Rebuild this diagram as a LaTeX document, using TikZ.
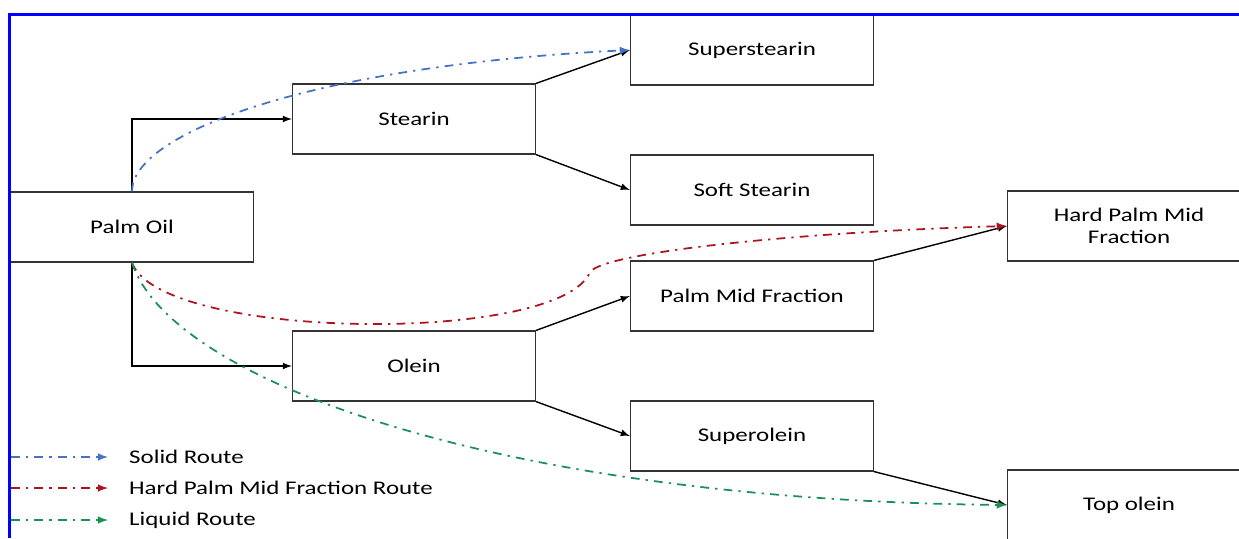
\documentclass[tikz,border=0pt]{standalone}
\usepackage{fontspec}
\setmainfont{Carlito}[FakeStretch=1.29]
\definecolor{routeblue}{RGB}{68,114,196}
\definecolor{routered}{RGB}{170,20,30}
\definecolor{routegreen}{RGB}{25,145,85}
\begin{document}
\begin{tikzpicture}[
    x=0.02cm, y=-0.02cm,
    box/.style={draw=black!80, line width=0.7pt, minimum width=4.86cm, minimum height=1.4cm, align=center, font=\fontsize{11}{12.5}\selectfont},
    flow/.style={draw, line width=0.8pt, -latex},
    route/.style={line width=1pt, -latex, dash pattern=on 5pt off 3.5pt on 1.3pt off 3.5pt},
    solidroute/.style={route, routeblue},
    hpmfroute/.style={route, routered},
    liquidroute/.style={route, routegreen},
    legend/.style={anchor=west, font=\fontsize{11}{12.5}\selectfont},
]
    \useasboundingbox (0,0) rectangle (1239,538);

    \node[box] (palm) at (132,227) {Palm Oil};
    \node[box] (stearin) at (414,119) {Stearin};
    \node[box] (olein) at (414,366) {Olein};
    \node[box] (superstearin) at (752,50) {Superstearin};
    \node[box] (softstearin) at (752,190) {Soft Stearin};
    \node[box] (pmf) at (752,296) {Palm Mid Fraction};
    \node[box] (superolein) at (752,436) {Superolein};
    \node[box] (hpmf) at (1129,226) {Hard Palm Mid\\Fraction};
    \node[box] (topolein) at (1129,505) {Top olein};

    \draw[flow] (palm.north) |- (stearin.west);
    \draw[flow] (palm.south) |- (olein.west);
    \draw[flow] (stearin.north east) -- (superstearin.west);
    \draw[flow] (stearin.south east) -- (softstearin.west);
    \draw[flow] (olein.north east) -- (pmf.west);
    \draw[flow] (olein.south east) -- (superolein.west);
    \draw[flow] (pmf.north east) -- (hpmf.west);
    \draw[flow] (superolein.south east) -- (topolein.west);

    \coordinate (kink) at (590,272);
    \draw[solidroute] (palm.north) .. controls +(0,-58) and +(-320,16) .. (superstearin.west);
    \draw[hpmfroute] (palm.south) .. controls +(28,78) and +(-30,73) .. (kink)
        .. controls +(15,-20) and +(-207,6) .. (hpmf.west);
    \draw[liquidroute] (palm.south) .. controls +(38,118) and +(-507,-5) .. (topolein.west);

    \foreach \y/\st/\txt [count=\i] in {457/solidroute/Solid Route, 488/hpmfroute/Hard Palm Mid Fraction Route, 520/liquidroute/Liquid Route} {
        \node[legend] (leg\i) at (123,\y) {\txt};
        \coordinate (legstart\i) at (11,\y);
        \draw[\st] (legstart\i) -- ([xshift=-0.3cm]leg\i.west);
    }

    \draw[blue, line width=0.06cm] (9.5,538) -- (9.5,14.5) -- (1239,14.5);
\end{tikzpicture}
\end{document}
